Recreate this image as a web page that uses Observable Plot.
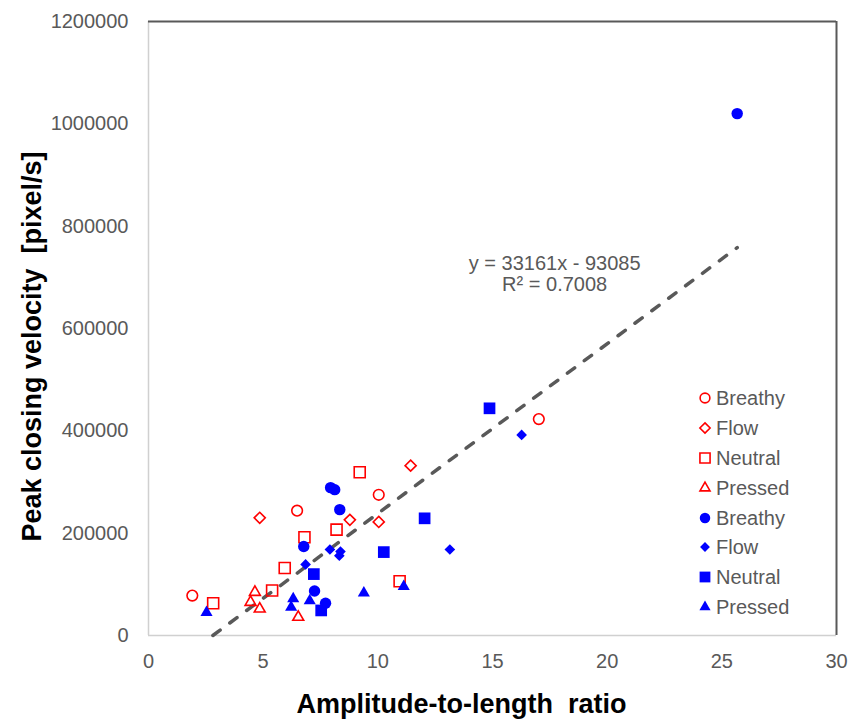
<!DOCTYPE html>
<html>
<head>
<meta charset="utf-8">
<script src="https://cdn.jsdelivr.net/npm/d3@7"></script>
<script src="https://cdn.jsdelivr.net/npm/@observablehq/plot@0.6"></script>
<style>
  html, body { margin: 0; padding: 0; background: #fff; }
  #wrap { position: relative; width: 849px; height: 719px; font-family: "Liberation Sans", Arial, sans-serif; }
  #legend { position: absolute; left: 697px; top: 383px; }
  .row { display: flex; align-items: center; height: 29.9px; }
  .row svg { width: 16px; height: 16px; flex: none; }
  .row span { font-size: 20px; color: #595959; margin-left: 3px; line-height: 1; }
</style>
</head>
<body>
<div id="wrap"></div>
<script>
// ---- data ----
const xTicks = [0, 5, 10, 15, 20, 25, 30];
const yTicks = [0, 200000, 400000, 600000, 800000, 1000000, 1200000];
const legendLabels = ["Breathy", "Flow", "Neutral", "Pressed", "Breathy", "Flow", "Neutral", "Pressed"];
const xTitle = "Amplitude-to-length  ratio";
const yTitle = "Peak closing velocity  [pixel/s]";

// open red markers
const openBreathyX = [1.91, 6.48, 10.04, 17.02];
const openBreathyY = [78000, 244000, 275000, 423000];
const openFlowX = [4.85, 8.78, 10.04, 11.43];
const openFlowY = [230000, 226000, 222000, 332000];
const openNeutralX = [2.82, 5.39, 5.94, 6.80, 8.20, 9.21, 10.95];
const openNeutralY = [63000, 88000, 132000, 192000, 207000, 319000, 106000];
const openPressedX = [4.64, 4.45, 4.85, 6.53];
const openPressedY = [84500, 65000, 52000, 36000];

// filled blue markers
const fillBreathyX = [6.77, 7.24, 7.72, 7.94, 8.12, 8.34, 25.67];
const fillBreathyY = [174000, 87000, 63000, 289000, 285000, 246000, 1020000];
const fillFlowX = [6.85, 7.91, 8.37, 8.32, 13.14, 16.27];
const fillFlowY = [139000, 168000, 164000, 156000, 168000, 392000];
const fillNeutralX = [7.21, 7.53, 10.26, 12.04, 14.87];
const fillNeutralY = [120000, 49000, 163000, 229000, 444000];
const fillPressedX = [2.53, 6.31, 6.22, 7.03, 9.39, 11.13];
const fillPressedY = [45000, 71600, 55000, 68000, 83000, 96000];

// trend line y = slope * x + intercept
const slope = 33161;
const intercept = -93085;
const eqLines = ["y = 33161x - 93085", "R² = 0.7008"];

// ---- styles ----
const RED = "#ff0000", BLUE = "#0000ff", GRAY = "#595959";
const seriesStyle = [
  {xs: openBreathyX, ys: openBreathyY, symbol: "circle",    r: 5.3, fill: "none", stroke: RED},
  {xs: openFlowX,    ys: openFlowY,    symbol: "diamond2",  r: 5.0, fill: "none", stroke: RED},
  {xs: openNeutralX, ys: openNeutralY, symbol: "square2",   r: 7.0, fill: "none", stroke: RED},
  {xs: openPressedX, ys: openPressedY, symbol: "triangle2", r: 5.2, fill: "none", stroke: RED},
  {xs: fillBreathyX, ys: fillBreathyY, symbol: "circle",    r: 5.7, fill: BLUE, stroke: "none"},
  {xs: fillFlowX,    ys: fillFlowY,    symbol: "diamond2",  r: 4.8, fill: BLUE, stroke: "none"},
  {xs: fillNeutralX, ys: fillNeutralY, symbol: "square",    r: 6.6, fill: BLUE, stroke: "none"},
  {xs: fillPressedX, ys: fillPressedY, symbol: "triangle",  r: 4.5, fill: BLUE, stroke: "none"}
];

const allX = seriesStyle.flatMap(s => s.xs);
const xStart = -intercept / slope;
const xEnd = d3.max(allX);
const trend = [xStart, xEnd].map(x => ({x, y: slope * x + intercept}));

const dotMarks = seriesStyle.map(s =>
  Plot.dot(s.xs.map((x, i) => ({x, y: s.ys[i]})), {
    x: "x", y: "y", symbol: s.symbol, r: s.r,
    fill: s.fill, stroke: s.stroke, strokeWidth: 1.6
  })
);

// equation label anchored in data space near the upper end of the trend line
const eqX = 17.71;
const eqRows = eqLines.map((t, i) => ({t, x: eqX, y: 727000 - i * 41000}));

const chart = Plot.plot({
  width: 849,
  height: 719,
  marginLeft: 148,
  marginRight: 13,
  marginTop: 21,
  marginBottom: 84,
  style: {fontFamily: "'Liberation Sans', Arial, sans-serif", background: "#fff", overflow: "visible"},
  x: {domain: [0, 30]},
  y: {domain: [0, 1200000]},
  marks: [
    Plot.ruleY([0], {stroke: "#d0d0d0", strokeWidth: 1.5}),
    Plot.ruleX([0], {stroke: "#d0d0d0", strokeWidth: 1.5}),
    Plot.ruleY([1200000], {stroke: GRAY, strokeWidth: 2}),
    Plot.ruleX([30], {stroke: GRAY, strokeWidth: 2}),
    Plot.axisX({ticks: xTicks, tickSize: 0, tickPadding: 18, fontSize: 20, fill: GRAY, label: null, tickFormat: d => String(d)}),
    Plot.axisY({ticks: yTicks, tickSize: 0, tickPadding: 20, fontSize: 20, fill: GRAY, label: null, tickFormat: d => String(d)}),
    Plot.line(trend, {x: "x", y: "y", stroke: GRAY, strokeWidth: 3.5, strokeDasharray: "9,12", strokeLinecap: "round"}),
    ...dotMarks,
    Plot.text(eqRows, {x: "x", y: "y", text: "t", fontSize: 20, fill: GRAY, textAnchor: "middle"}),
    Plot.text([xTitle], {frameAnchor: "bottom", textAnchor: "middle", lineAnchor: "middle", dx: -31, dy: 69, fontSize: 27, fontWeight: "bold", fill: "#000"}),
    Plot.text([yTitle], {frameAnchor: "left", textAnchor: "middle", lineAnchor: "middle", rotate: -90, dx: -116, dy: 18, fontSize: 27, fontWeight: "bold", fill: "#000"})
  ]
});

const wrap = document.getElementById("wrap");
wrap.appendChild(chart);

// legend (HTML overlay inside the plot area)
const legend = document.createElement("div");
legend.id = "legend";
const symMap = {circle: d3.symbolCircle, diamond2: d3.symbolDiamond2, square2: d3.symbolSquare2,
                triangle2: d3.symbolTriangle2, square: d3.symbolSquare, triangle: d3.symbolTriangle};
seriesStyle.forEach((s, i) => {
  const row = document.createElement("div");
  row.className = "row";
  const svg = d3.create("svg").attr("viewBox", "-8 -8 16 16");
  svg.append("path")
    .attr("d", d3.symbol(symMap[s.symbol], Math.PI * s.r * s.r * 0.85)())
    .attr("fill", s.fill).attr("stroke", s.stroke).attr("stroke-width", 1.6);
  row.appendChild(svg.node());
  const span = document.createElement("span");
  span.textContent = legendLabels[i];
  row.appendChild(span);
  legend.appendChild(row);
});
wrap.appendChild(legend);
</script>
</body>
</html>
